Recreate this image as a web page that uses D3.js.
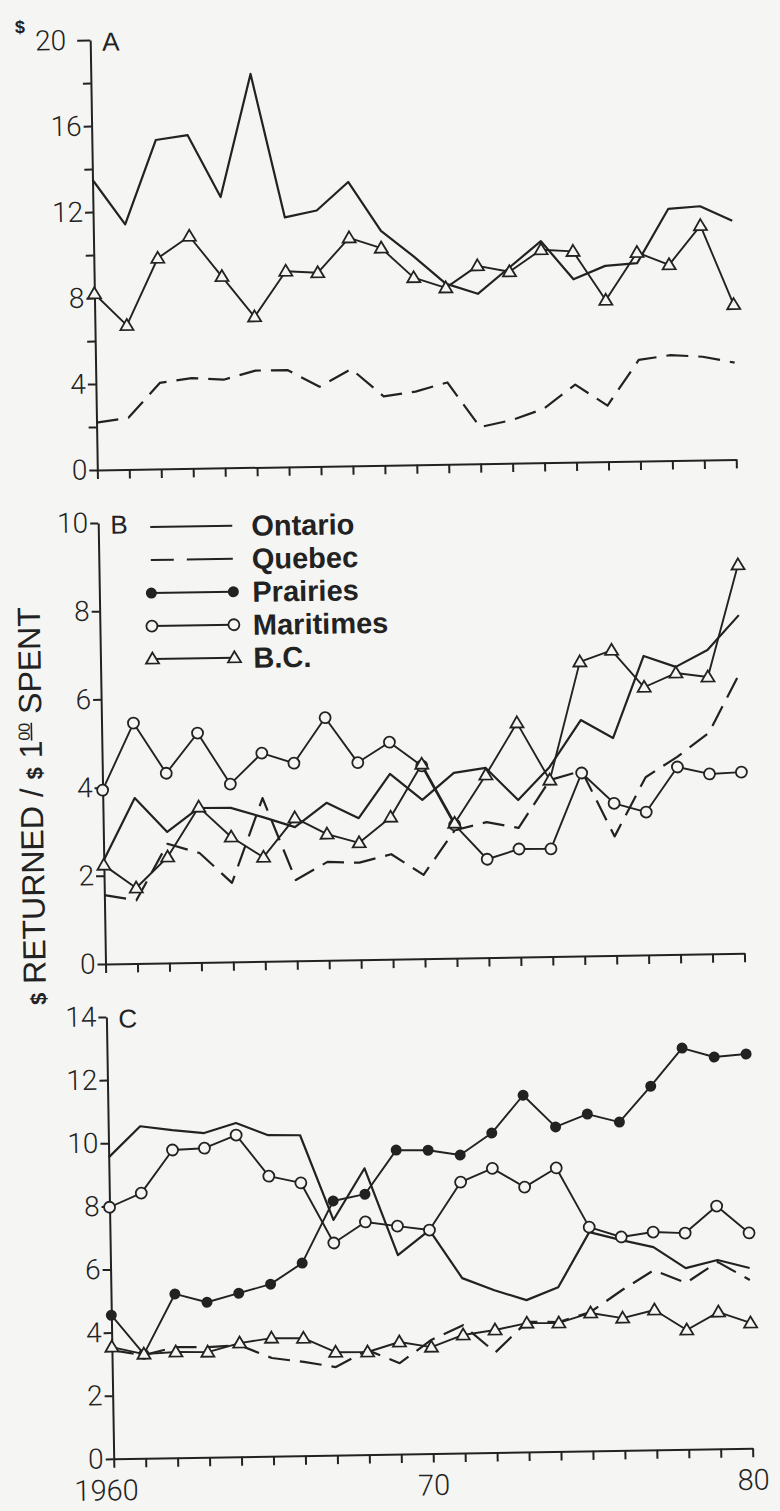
<!DOCTYPE html>
<html>
<head>
<meta charset="utf-8">
<script src="https://cdn.jsdelivr.net/npm/d3@7/dist/d3.min.js"></script>
<style>
  html, body { margin: 0; padding: 0; background: #f5f5f3; }
  svg { display: block; }
  .axis path, .axis line { stroke: #222; stroke-width: 2; }
  .axis text { font-family: Roboto, 'Liberation Sans', sans-serif; font-weight: 300; fill: #222; }
</style>
</head>
<body>
<div id="chart"></div>
<script>
// Years on the x axis
const years = [1960, 1961, 1962, 1963, 1964, 1965, 1966, 1967, 1968, 1969, 1970,
               1971, 1972, 1973, 1974, 1975, 1976, 1977, 1978, 1979, 1980];
const xLabels = { 1960: '1960', 1970: '70', 1980: '80' };

// Panel A
const ontarioA = [13.5, 11.4, 15.3, 15.5, 12.6, 18.3, 11.6, 11.9, 13.2, 10.9, 9.7, 8.4, 7.9, 9.1, 10.3, 8.5, 9.1, 9.2, 11.7, 11.8, 11.1];
const quebecA  = [2.2, 2.4, 4.0, 4.2, 4.1, 4.5, 4.5, 3.7, 4.5, 3.2, 3.4, 3.8, 1.7, 2.0, 2.5, 3.6, 2.6, 4.7, 4.9, 4.8, 4.5];
const bcA      = [8.2, 6.7, 9.8, 10.8, 8.9, 7.0, 9.1, 9.0, 10.6, 10.1, 8.7, 8.2, 9.2, 8.9, 9.9, 9.8, 7.5, 9.7, 9.1, 10.9, 7.2];

// Panel B
const ontarioB   = [2.35, 3.75, 2.97, 3.5, 3.49, 3.27, 3.03, 3.57, 3.21, 4.2, 3.6, 4.2, 4.3, 3.56, 4.3, 5.35, 4.93, 6.78, 6.52, 6.89, 7.67];
const quebecB    = [1.56, 1.43, 2.7, 2.48, 1.79, 3.7, 1.83, 2.23, 2.2, 2.38, 1.9, 2.9, 3.07, 2.93, 4.0, 4.2, 2.7, 4.03, 4.48, 5.01, 6.36];
const maritimesB = [3.94, 5.45, 4.3, 5.2, 4.03, 4.72, 4.48, 5.5, 4.47, 4.92, 4.37, 3.02, 2.23, 2.45, 2.44, 4.15, 3.45, 3.24, 4.25, 4.08, 4.11];
const bcB        = [2.24, 1.71, 2.4, 3.52, 2.83, 2.36, 3.24, 2.86, 2.65, 3.22, 4.41, 3.06, 4.14, 5.31, 4.0, 6.67, 6.92, 6.07, 6.38, 6.28, 8.81];

// Panel C
const ontarioC   = [9.55, 10.52, 10.38, 10.27, 10.57, 10.17, 10.15, 7.45, 9.07, 6.3, 7.08, 5.54, 5.14, 4.81, 5.2, 6.93, 6.66, 6.42, 5.74, 5.98, 5.71];
const quebecC    = [3.44, 3.27, 3.51, 3.49, 3.53, 3.11, 2.97, 2.79, 3.31, 2.88, 3.6, 4.05, 3.17, 4.12, 4.1, 4.4, 5.08, 5.69, 5.27, 5.92, 5.33];
const prairiesC  = [4.55, 3.3, 5.19, 4.91, 5.18, 5.45, 6.1, 8.05, 8.25, 9.63, 9.61, 9.44, 10.12, 11.3, 10.28, 10.67, 10.4, 11.52, 12.71, 12.41, 12.49];
const maritimesC = [7.97, 8.4, 9.75, 9.79, 10.19, 8.87, 8.64, 6.72, 7.37, 7.22, 7.08, 8.58, 9.0, 8.39, 8.98, 7.09, 6.76, 6.9, 6.85, 7.69, 6.82];
const bcC        = [3.54, 3.3, 3.35, 3.33, 3.6, 3.74, 3.72, 3.26, 3.25, 3.55, 3.37, 3.74, 3.88, 4.08, 4.07, 4.37, 4.19, 4.43, 3.78, 4.33, 3.97];

// Legend entries
const legendNames = ['Ontario', 'Quebec', 'Prairies', 'Maritimes', 'B.C.'];
const legendKinds = ['ontario', 'quebec', 'prairies', 'maritimes', 'bc'];

const INK = '#222';
const BG = '#f5f5f3';

const svg = d3.select('#chart').append('svg')
    .attr('width', 780)
    .attr('height', 1511);

// the scan is slightly tilted
const root = svg.append('g').attr('transform', 'rotate(-0.95, 400, 750)');

const x = d3.scaleLinear().domain([1960, 1980]).range([102, 741]);

const panels = [
    { letter: 'A', top: 35, bottom: 465, max: 20, ticks: [0, 4, 8, 12, 16, 20], minor: [2, 6, 10, 14, 18],
      series: [[ontarioA, 'ontario'], [quebecA, 'quebec'], [bcA, 'bc']] },
    { letter: 'B', top: 518, bottom: 959, max: 10, ticks: [0, 2, 4, 6, 8, 10], minor: [],
      series: [[ontarioB, 'ontario'], [quebecB, 'quebec'], [maritimesB, 'maritimes'], [bcB, 'bc']] },
    { letter: 'C', top: 1012, bottom: 1454, max: 14, ticks: [0, 2, 4, 6, 8, 10, 12, 14], minor: [],
      series: [[ontarioC, 'ontario'], [quebecC, 'quebec'], [prairiesC, 'prairies'], [maritimesC, 'maritimes'], [bcC, 'bc']] }
];

function drawMarker(g, kind, cx, cy) {
    if (kind === 'bc') {
        g.append('path')
            .attr('d', `M${cx},${cy - 6.5}L${cx + 6.5},${cy + 4.5}L${cx - 6.5},${cy + 4.5}Z`)
            .attr('fill', BG).attr('stroke', INK).attr('stroke-width', 1.8);
    } else if (kind === 'maritimes') {
        g.append('circle').attr('cx', cx).attr('cy', cy).attr('r', 5.5)
            .attr('fill', BG).attr('stroke', INK).attr('stroke-width', 1.8);
    } else if (kind === 'prairies') {
        g.append('circle').attr('cx', cx).attr('cy', cy).attr('r', 5.5)
            .attr('fill', INK);
    }
}

panels.forEach((p, pi) => {
    const y = d3.scaleLinear().domain([0, p.max]).range([p.bottom, p.top]);
    const g = root.append('g');

    // x axis, a tick every year
    const xAxis = g.append('g')
        .attr('class', 'axis')
        .attr('transform', `translate(0,${p.bottom})`)
        .call(d3.axisBottom(x)
            .tickValues(years)
            .tickSize(9)
            .tickSizeOuter(0)
            .tickPadding(12)
            .tickFormat(d => pi === 2 ? (xLabels[d] || '') : ''));
    xAxis.selectAll('text').style('font-size', '29px');
    xAxis.selectAll('text').filter(d => d === 1960)
        .attr('text-anchor', 'end').attr('x', 24);

    // y axis
    const yAxis = g.append('g')
        .attr('class', 'axis')
        .attr('transform', `translate(${x(1960)},0)`)
        .call(d3.axisLeft(y)
            .tickValues(p.ticks)
            .tickSize(8)
            .tickSizeOuter(0)
            .tickPadding(2));
    yAxis.selectAll('text').style('font-size', '28px');

    if (p.minor.length) {
        g.append('g')
            .attr('class', 'axis')
            .attr('transform', `translate(${x(1960)},0)`)
            .call(d3.axisLeft(y).tickValues(p.minor).tickSize(8).tickSizeOuter(0).tickFormat(''))
            .select('.domain').remove();
    }

    if (p.letter === 'A') {
        const top = yAxis.selectAll('.tick').filter(d => d === 20);
        top.select('line').attr('x2', -13);
        top.select('text').attr('x', -24);
        g.append('text')
            .attr('x', 32).attr('y', 27)
            .attr('text-anchor', 'middle')
            .attr('font-family', 'Liberation Sans, sans-serif')
            .attr('font-weight', 'bold')
            .attr('font-size', 18)
            .attr('fill', INK)
            .text('$');
    }

    // panel letter
    g.append('text')
        .attr('x', 114)
        .attr('y', p.top + 11)
        .attr('font-family', 'Liberation Sans, sans-serif')
        .attr('font-size', 26)
        .attr('fill', INK)
        .text(p.letter);

    const line = d3.line()
        .x((d, i) => x(years[i]))
        .y(d => y(d));

    // lines
    p.series.forEach(([vals, kind]) => {
        g.append('path')
            .datum(vals)
            .attr('d', line)
            .attr('fill', 'none')
            .attr('stroke', INK)
            .attr('stroke-width', kind === 'ontario' || kind === 'quebec' ? 2.2 : 1.9)
            .attr('stroke-linejoin', 'round')
            .attr('stroke-dasharray', kind === 'quebec' ? '22,10' : null);
    });

    // markers on top
    p.series.forEach(([vals, kind]) => {
        vals.forEach((v, i) => drawMarker(g, kind, x(years[i]), y(v)));
    });

    // legend sits in panel B
    if (p.letter === 'B') {
        const legend = g.append('g');
        legendNames.forEach((name, i) => {
            const ly = 523 + i * 33;
            const kind = legendKinds[i];
            legend.append('line')
                .attr('x1', 154).attr('x2', 236)
                .attr('y1', ly).attr('y2', ly)
                .attr('stroke', INK)
                .attr('stroke-width', 2)
                .attr('stroke-dasharray', kind === 'quebec' ? '23,13,46' : null);
            drawMarker(legend, kind, 154, ly);
            drawMarker(legend, kind, 236, ly);
            legend.append('text')
                .attr('x', 255).attr('y', ly)
                .attr('dy', '0.36em')
                .attr('font-family', 'Liberation Sans, Arial, sans-serif')
                .attr('font-weight', 'bold')
                .attr('font-size', 29)
                .attr('fill', INK)
                .text(name);
        });
    }
});

// shared y axis title
const title = root.append('text')
    .attr('transform', 'translate(42,800) rotate(-90)')
    .attr('text-anchor', 'middle')
    .attr('font-family', 'Liberation Sans, sans-serif')
    .attr('font-size', 32)
    .attr('fill', INK);
title.append('tspan').attr('font-weight', 'bold').attr('font-size', 22).text('$');
title.append('tspan').text(' RETURNED / ');
title.append('tspan').attr('font-weight', 'bold').attr('font-size', 22).text('$');
title.append('tspan').text(' 1');
title.append('tspan').attr('font-size', 16).attr('dy', -12)
    .style('text-decoration', 'underline').text('00');
title.append('tspan').attr('dy', 12).text(' SPENT');
</script>
</body>
</html>
